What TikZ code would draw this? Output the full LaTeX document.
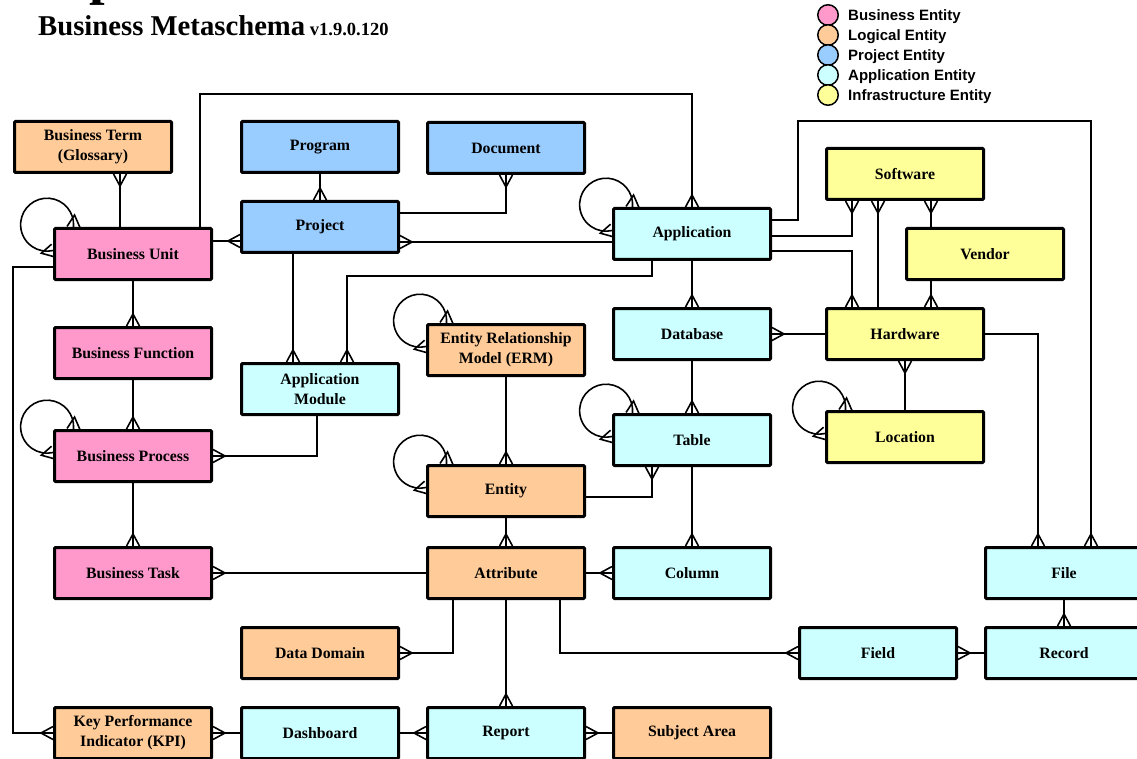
\documentclass[tikz,border=0pt]{standalone}
\usepackage{fontspec}
\setmainfont{Liberation Serif}
\setsansfont{Liberation Sans}
\usepackage{tikz}
\usetikzlibrary{arrows.meta, positioning}

\definecolor{bizc}{HTML}{FF99CC}
\definecolor{logc}{HTML}{FFCC99}
\definecolor{projc}{HTML}{99CCFF}
\definecolor{appc}{HTML}{CCFFFF}
\definecolor{infc}{HTML}{FFFF99}

% crow's foot (the "many" end)
\pgfdeclarearrow{
  name = Crow,
  parameters = {\the\pgfarrowlength,\the\pgfarrowwidth},
  setup code = {
    \pgfarrowssettipend{0pt}
    \pgfarrowssetlineend{0pt}
    \pgfarrowssetbackend{-\pgfarrowlength}
    \pgfarrowssavethe\pgfarrowlength
    \pgfarrowssavethe\pgfarrowwidth
  },
  drawing code = {
    \pgfpathmoveto{\pgfqpoint{0pt}{.5\pgfarrowwidth}}
    \pgfpathlineto{\pgfqpoint{-\pgfarrowlength}{0pt}}
    \pgfpathlineto{\pgfqpoint{0pt}{-.5\pgfarrowwidth}}
    \pgfusepathqstroke
  },
  defaults = {length=12pt, width=13pt}
}

\begin{document}
\begin{tikzpicture}[x=1pt, y=1pt,
    box/.style={draw, line width=3pt, rounded corners=1pt, minimum width=157pt, minimum height=51pt,
      align=center, inner sep=2pt, font=\bfseries\fontsize{15.8}{20}\selectfont},
    busent/.style={box, fill=bizc},
    logent/.style={box, fill=logc},
    projent/.style={box, fill=projc},
    appent/.style={box, fill=appc},
    infent/.style={box, fill=infc},
    link/.style={line width=1.6pt},
    legdot/.style={circle, draw, line width=1.5pt, minimum size=20.5pt, inner sep=0pt},
    legtxt/.style={font=\sffamily\bfseries\fontsize{15}{16}\selectfont, inner sep=0pt, text height=10.7pt, text depth=0pt}]
  \useasboundingbox (0,0) rectangle (1137,-759);
  \clip (0,0) rectangle (1137,-759);

  % title
  \node[anchor=base west, inner sep=0pt, font=\bfseries\fontsize{56}{60}\selectfont] (bigp) at (89,6) {p};
  \node[anchor=base west, inner sep=0pt, font=\bfseries\fontsize{18.5}{20}\selectfont] (title) at (38,-36)
    {{\fontsize{28.7}{30}\selectfont Business Metaschema} v1.9.0.120};

  % legend
  \foreach \c/\t [count=\i] in {bizc/Business Entity, logc/Logical Entity, projc/Project Entity,
      appc/Application Entity, infc/Infrastructure Entity} {
    \node[legdot, fill=\c] (leg\i) at (828,-20*\i+5) {};
    \node[legtxt, right=9pt of leg\i] (legtxt\i) {\t};
  }

  % entities
  \node[logent] (term) at (93,-147) {Business Term\\(Glossary)};
  \node[projent] (prog) at (320,-147) {Program};
  \node[projent] (doc) at (506,-148) {Document};
  \node[projent] (proj) at (320,-227) {Project};
  \node[busent] (bu) at (133,-254) {Business Unit};
  \node[appent] (app) at (692,-234) {Application};
  \node[infent] (soft) at (905,-174) {Software};
  \node[infent] (vend) at (985,-254) {Vendor};
  \node[busent] (bf) at (133,-353) {Business Function};
  \node[appent] (mod) at (320,-389) {Application\\Module};
  \node[logent] (erm) at (506,-350) {Entity Relationship\\Model (ERM)};
  \node[appent] (db) at (692,-334) {Database};
  \node[infent] (hw) at (905,-334) {Hardware};
  \node[busent] (bp) at (133,-456) {Business Process};
  \node[appent] (tbl) at (692,-440) {Table};
  \node[infent] (loc) at (905,-437) {Location};
  \node[logent] (ent) at (506,-491) {Entity};
  \node[busent] (task) at (133,-573) {Business Task};
  \node[logent] (attr) at (506,-573) {Attribute};
  \node[appent] (col) at (692,-573) {Column};
  \node[appent] (file) at (1064,-573) {File};
  \node[logent] (dom) at (320,-653) {Data Domain};
  \node[appent] (fld) at (878,-653) {Field};
  \node[appent] (rec) at (1064,-653) {Record};
  \node[logent] (kpi) at (133,-733) {Key Performance\\Indicator (KPI)};
  \node[appent] (dash) at (320,-733) {Dashboard};
  \node[appent] (rep) at (506,-733) {Report};
  \node[logent] (subj) at (692,-733) {Subject Area};

  % self references
  \foreach \n in {bu,app,erm,ent,tbl,bp,loc}
    \draw[link, Crow-Crow] ([xshift=20.5pt]\n.north west) arc[start angle=-5, end angle=283, radius=26.5pt];

  % relationships
  \draw[link, -Crow] (bu.north -| 120,0) -- (term.south -| 120,0);
  \draw[link, -Crow] (prog) -- (proj);
  \draw[link, -Crow] (proj.east |- 0,-213) -| (doc);
  \draw[link, -Crow] (bu.east |- 0,-241) -- (proj.west |- 0,-241);
  \draw[link, -Crow] (app.west |- 0,-242) -- (proj.east |- 0,-242);
  \draw[link, -Crow] (bu.north -| 200,0) |- (692,-94) -- (app);
  \draw[link, -Crow] (proj.south -| 293,0) -- (mod.north -| 293,0);
  \draw[link, -Crow] (app.south -| 652,0) |- (347,-276) -- (mod.north -| 347,0);
  \draw[link, -Crow] (app.east |- 0,-236) -| (soft.south -| 852,0);
  \draw[link, -Crow] (app.east |- 0,-251) -| (hw.north -| 852,0);
  \draw[link, -Crow] (app.east |- 0,-220) -| (798,-121) -| (file.north -| 1091,0);
  \draw[link, -Crow] (hw.north -| 878,0) -- (soft.south -| 878,0);
  \draw[link, -Crow] (vend.north -| 931,0) -- (soft.south -| 931,0);
  \draw[link, -Crow] (vend.south -| 931,0) -- (hw.north -| 931,0);
  \draw[link, -Crow] (app) -- (db);
  \draw[link, -Crow] (hw) -- (db);
  \draw[link, -Crow] (loc) -- (hw);
  \draw[link, -Crow] (hw) -| (file.north -| 1038,0);
  \draw[link, -Crow] (db) -- (tbl);
  \draw[link, -Crow] (tbl) -- (col);
  \draw[link, -Crow] (erm) -- (ent);
  \draw[link, -Crow] (ent.east |- 0,-497) -| (tbl.south -| 652,0);
  \draw[link, -Crow] (ent) -- (attr);
  \draw[link, -Crow] (attr) -- (col);
  \draw[link, -Crow] (attr) -- (task);
  \draw[link, -Crow] (attr.south -| 453,0) |- (dom);
  \draw[link, -Crow] (attr.south -| 560,0) |- (fld);
  \draw[link, -Crow] (rec) -- (fld);
  \draw[link, -Crow] (file) -- (rec);
  \draw[link, -Crow] (attr) -- (rep);
  \draw[link, -Crow] (subj) -- (rep);
  \draw[link, -Crow] (dash) -- (rep);
  \draw[link, -Crow] (dash) -- (kpi);
  \draw[link, -Crow] (bu.west |- 0,-267) -| (13,-733) -- (kpi);
  \draw[link, -Crow] (bu) -- (bf);
  \draw[link, -Crow] (bf) -- (bp);
  \draw[link, -Crow] (bp) -- (task);
  \draw[link, -Crow] (mod.south -| 317,0) |- (bp);
\end{tikzpicture}
\end{document}
